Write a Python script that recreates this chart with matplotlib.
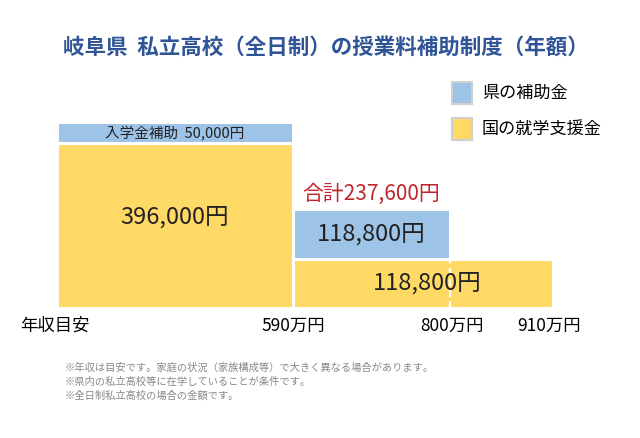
import matplotlib.pyplot as plt
from matplotlib.patches import Rectangle

plt.rcParams["font.family"] = ["Noto Sans CJK JP", "DejaVu Sans"]

# ── Data ─────────────────────────────────────────────────────────────────────
INCOME_LABELS = ["年収目安", "590万円", "800万円", "910万円"]
NATIONAL      = [396000, 118800, 118800]   # 国の就学支援金 per income bracket
PREFECTURE    = [50000, 118800, 0]         # 県の補助金 per income bracket
NATIONAL_TEXT = ["396,000円", "118,800円"]
PREF_TEXT     = ["入学金補助  50,000円", "118,800円"]
TOTAL_TEXT    = "合計237,600円"
LEGEND_LABELS = ["県の補助金", "国の就学支援金"]
NOTES = [
    "※年収は目安です。家庭の状況（家族構成等）で大きく異なる場合があります。",
    "※県内の私立高校等に在学していることが条件です。",
    "※全日制私立高校の場合の金額です。",
]
TITLE = "岐阜県  私立高校（全日制）の授業料補助制度（年額）"

# ── Layout / style ───────────────────────────────────────────────────────────
EDGES  = [0, 236, 393, 496]      # drawn x positions of the income boundaries
BLUE   = "#9DC3E6"
YELLOW = "#FFD966"
INK    = "#222222"

fig = plt.figure(figsize=(6.4, 4.38), dpi=100)
W, H = 640, 438
ax = fig.add_axes([57 / W, (H - 308) / H, 496 / W, 248 / H])
ax.set_xlim(0, 496)
ax.set_ylim(0, 248 * 2400)
ax.axis("off")

lefts  = EDGES[:-1]
widths = [EDGES[i + 1] - EDGES[i] for i in range(3)]

# yellow: first bracket alone, then 590-910 as one block with dashed split
ax.bar(lefts[0], NATIONAL[0], width=widths[0], align="edge", color=YELLOW,
       edgecolor="white", linewidth=2.2)
ax.bar(lefts[1], NATIONAL[1], width=widths[1] + widths[2], align="edge",
       color=YELLOW, edgecolor="white", linewidth=2.2)
ax.vlines(EDGES[2], 0, NATIONAL[2], colors="white", linestyles=(0, (3, 2)), lw=1.6)

# blue on top
for i in range(2):
    ax.bar(lefts[i], PREFECTURE[i], bottom=NATIONAL[i], width=widths[i],
           align="edge", color=BLUE, edgecolor="white", linewidth=2.2)

ax.text(lefts[0] + widths[0] / 2, NATIONAL[0] * 0.55, NATIONAL_TEXT[0],
        ha="center", va="center", fontsize=17, color=INK)
ax.text((EDGES[1] + EDGES[3]) / 2 + 4, NATIONAL[1] / 2, NATIONAL_TEXT[1],
        ha="center", va="center", fontsize=17, color=INK)
ax.text(lefts[0] + widths[0] / 2, NATIONAL[0] + PREFECTURE[0] / 2 - 1500, PREF_TEXT[0],
        ha="center", va="center", fontsize=10.5, color=INK)
ax.text(lefts[1] + widths[1] / 2, NATIONAL[1] + PREFECTURE[1] / 2, PREF_TEXT[1],
        ha="center", va="center", fontsize=17, color=INK)
ax.text(lefts[1] + widths[1] / 2, NATIONAL[1] + PREFECTURE[1] + 9000, TOTAL_TEXT,
        ha="center", va="bottom", fontsize=15, color="#C0272D")

# income labels under the axis
fig.text(55 / W, 1 - 326 / H, INCOME_LABELS[0], ha="center", va="center", fontsize=12.5)
for lab, xp in zip(INCOME_LABELS[1:], [293, 452, 549]):
    fig.text(xp / W, 1 - 326 / H, lab, ha="center", va="center", fontsize=12.5)

# title
fig.text(326 / W, 1 - 47 / H, TITLE, ha="center", va="center", fontsize=15.5,
         fontweight="bold", color="#2F5597")

# legend
for k, (lab, col) in enumerate(zip(LEGEND_LABELS, [BLUE, YELLOW])):
    y0 = 82 + k * 36
    fig.add_artist(Rectangle((452 / W, 1 - (y0 + 22) / H), 20 / W, 22 / H,
                             transform=fig.transFigure, facecolor=col,
                             edgecolor="#D0D0D0", linewidth=1.5))
    fig.text(482 / W, 1 - (y0 + 11) / H, lab, ha="left", va="center", fontsize=12.3)

# notes
for k, note in enumerate(NOTES):
    fig.text(65 / W, 1 - (368 + k * 14) / H, note, ha="left", va="center",
             fontsize=7.4, color="#888888")

fig.savefig("out.png", dpi=100)
